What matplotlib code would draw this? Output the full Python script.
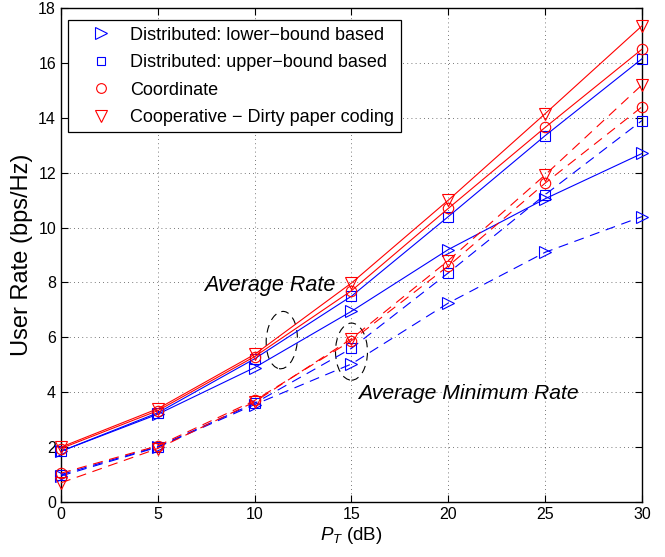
import matplotlib
matplotlib.use("Agg")
import matplotlib.pyplot as plt
from matplotlib.patches import Ellipse

plt.rcParams['font.family'] = ['Liberation Sans', 'DejaVu Sans']
plt.rcParams['mathtext.fontset'] = 'custom'
plt.rcParams['mathtext.it'] = 'Liberation Sans:italic'
plt.rcParams['mathtext.rm'] = 'Liberation Sans'

pt_db = [0, 5, 10, 15, 20, 25, 30]

# Average rate (solid)
avg_lower = [1.85, 3.2, 4.9, 6.95, 9.2, 11.05, 12.7]
avg_upper = [1.85, 3.25, 5.22, 7.5, 10.4, 13.35, 16.15]
avg_coord = [1.95, 3.33, 5.3, 7.7, 10.7, 13.65, 16.5]
avg_dpc = [2.0, 3.4, 5.38, 7.98, 11.0, 14.15, 17.35]

# Average minimum rate (dashed)
min_lower = [0.95, 2.0, 3.55, 5.03, 7.25, 9.1, 10.4]
min_upper = [1.0, 2.02, 3.6, 5.6, 8.35, 11.2, 13.9]
min_coord = [1.05, 2.05, 3.7, 5.88, 8.6, 11.62, 14.4]
min_dpc = [0.7, 1.95, 3.65, 5.95, 8.8, 11.92, 15.2]

labels = ['Distributed: lower\u2212bound based',
          'Distributed: upper\u2212bound based',
          'Coordinate',
          'Cooperative \u2212 Dirty paper coding']

fig = plt.figure(figsize=(6.65, 5.57), dpi=100)
ax = fig.add_axes([0.0917, 0.0987, 0.8737, 0.8869])

styles = [('b', '>'), ('b', 's'), ('r', 'o'), ('r', 'v')]
avg = [avg_lower, avg_upper, avg_coord, avg_dpc]
mins = [min_lower, min_upper, min_coord, min_dpc]
ms = [8, 6.5, 7.5, 8.5]
for (c, m), y, s in zip(styles, avg, ms):
    ax.plot(pt_db, y, color=c, marker=m, ms=s, mfc='none', mew=0.8, lw=0.8,
            clip_on=False, zorder=3)
for (c, m), y, s in zip(styles, mins, ms):
    ax.plot(pt_db, y, color=c, marker=m, ms=s, mfc='none', mew=0.8, lw=0.8,
            dashes=(9, 6), clip_on=False, zorder=3)

leg_ms = [8, 5.5, 7, 8]
handles = [ax.plot([], [], color=c, marker=m, ls='none', ms=s, mfc='none', mew=0.8)[0]
           for (c, m), s in zip(styles, leg_ms)]
leg = ax.legend(handles, labels, loc='upper left', fontsize=13, frameon=True,
                fancybox=False, edgecolor='black', framealpha=1,
                bbox_to_anchor=(0.012, 0.975), borderaxespad=0.0,
                borderpad=0.35, labelspacing=0.58,
                handletextpad=0.1, handlelength=3.0)
leg.get_frame().set_linewidth(0.9)

ax.add_patch(Ellipse((11.4, 5.9), 1.6, 2.1, angle=-8, fill=False, ec='k', lw=0.8,
                     ls=(0, (7, 5)), zorder=2))
ax.add_patch(Ellipse((15.0, 5.48), 1.65, 2.08, angle=0, fill=False, ec='k', lw=0.8,
                     ls=(0, (7, 5)), zorder=2))
ax.text(7.4, 7.9, 'Average Rate', fontsize=15.5, style='italic', va='center', ha='left')
ax.text(15.35, 3.97, 'Average Minimum Rate', fontsize=15.2, style='italic', va='center', ha='left')

ax.set_xlim(0, 30)
ax.set_ylim(0, 18)
ax.set_xticks(range(0, 31, 5))
ax.set_yticks(range(0, 19, 2))
ax.tick_params(direction='in', top=True, right=True, labelsize=11.5, length=5, width=0.8)
ax.grid(True, color='k', ls=(0, (1, 4)), lw=0.6, alpha=0.7)
for sp in ax.spines.values():
    sp.set_linewidth(1.0)

ax.set_xlabel('$P_T$ (dB)', fontsize=13.5, labelpad=2)
ax.set_ylabel('User Rate (bps/Hz)', fontsize=17, labelpad=4)

fig.savefig('out.png', dpi=100)
